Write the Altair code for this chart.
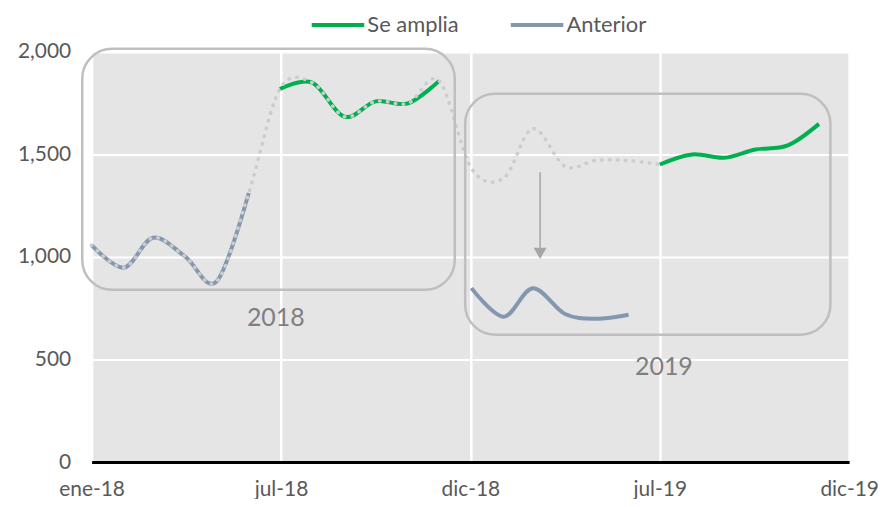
import altair as alt
import pandas as pd

# ---- data (monthly values) ----
meses_2018_h1 = ["2018-01-01", "2018-02-01", "2018-03-01", "2018-04-01", "2018-05-01", "2018-06-01"]
meses_2018_h2 = ["2018-07-01", "2018-08-01", "2018-09-01", "2018-10-01", "2018-11-01", "2018-12-01"]
meses_2019_h1 = ["2019-01-01", "2019-02-01", "2019-03-01", "2019-04-01", "2019-05-01", "2019-06-01"]
meses_2019_h2 = ["2019-07-01", "2019-08-01", "2019-09-01", "2019-10-01", "2019-11-01", "2019-12-01"]

anterior_2018 = [1058, 948, 1094, 1002, 880, 1312]
se_amplia_2018 = [1819, 1850, 1684, 1759, 1749, 1859]
previo_2019 = [1432, 1385, 1626, 1442, 1471, 1470, 1451]   # ene-jul 2019 (dotted)
anterior_2019 = [848, 709, 848, 722, 699, 718]
se_amplia_2019 = [1451, 1500, 1484, 1524, 1544, 1649]

series = ["Se amplia", "Anterior"]
colores = ["#00b050", "#8497b0"]

ticks_x = ["2018-01-01", "2018-07-02", "2018-12-31", "2019-07-01", "2019-12-30"]
ticks_y = [0, 500, 1000, 1500, 2000]
meses_es = ["ene", "feb", "mar", "abr", "may", "jun", "jul", "ago", "sep", "oct", "nov", "dic"]

# annotation boxes / labels / arrow (data coordinates)
cuadro_fecha_ini = ["2017-12-23", "2018-12-26"]
cuadro_fecha_fin = ["2018-12-16", "2019-12-12"]
cuadro_valor_ini = [840, 621]
cuadro_valor_fin = [2015, 1796]
etiquetas = ["2018", "2019"]
etiqueta_fecha = ["2018-06-27", "2019-07-05"]
etiqueta_valor = [704, 461]
flecha_fecha = "2019-03-08"
flecha_desde = 1413
flecha_hasta = 1035
flecha_punta = 1018

# ---- tables ----
def tramo(fechas, valores, serie, nombre):
    return pd.DataFrame({"fecha": fechas, "valor": valores, "serie": serie, "tramo": nombre})

lineas = pd.concat([
    tramo(meses_2018_h1, anterior_2018, "Anterior", "a18"),
    tramo(meses_2018_h2, se_amplia_2018, "Se amplia", "s18"),
    tramo(meses_2019_h1, anterior_2019, "Anterior", "a19"),
    tramo(meses_2019_h2, se_amplia_2019, "Se amplia", "s19"),
], ignore_index=True)

punteada = pd.DataFrame({
    "fecha": meses_2018_h1 + meses_2018_h2 + meses_2019_h1 + meses_2019_h2[:1],
    "valor": anterior_2018 + se_amplia_2018 + previo_2019,
})

cuadros = pd.DataFrame({"fecha": cuadro_fecha_ini, "fecha2": cuadro_fecha_fin,
                        "valor": cuadro_valor_ini, "valor2": cuadro_valor_fin})
textos = pd.DataFrame({"fecha": etiqueta_fecha, "valor": etiqueta_valor, "texto": etiquetas})
flecha = pd.DataFrame({"fecha": [flecha_fecha], "valor": [flecha_desde], "valor2": [flecha_hasta]})
punta = pd.DataFrame({"fecha": [flecha_fecha], "valor": [flecha_punta]})

FONT = "Lato"
GRIS_TXT = "#595959"

def dt(s):
    y, m, d = (int(p) for p in s.split("-"))
    return alt.DateTime(year=y, month=m, date=d, utc=True)

x_enc = alt.X(
    "fecha:T",
    scale=alt.Scale(type="utc", domain=[dt("2018-01-01"), dt("2019-12-30")]),
    axis=alt.Axis(
        values=[dt(t) for t in ticks_x],
        labelExpr="%s[utcmonth(datum.value)] + '-' + utcFormat(datum.value, '%%y')" % str(meses_es),
        title=None, grid=True, gridColor="white", gridWidth=2.5,
        ticks=False, domainColor="black", domainWidth=3,
        labelFont=FONT, labelFontSize=21, labelColor=GRIS_TXT, labelPadding=17,
        labelAlign="center", labelFlush=False, labelOverlap=False, labelBound=False,
    ),
)
y_enc = alt.Y(
    "valor:Q",
    scale=alt.Scale(domain=[0, 2000], nice=False, zero=True),
    axis=alt.Axis(
        values=ticks_y, format=",d", title=None, grid=True, gridColor="white", gridWidth=2,
        ticks=False, domain=False, labelFont=FONT, labelFontSize=21, labelColor=GRIS_TXT,
        labelPadding=21,
    ),
)

# legend line symbol: a wide horizontal stroke drawn by a custom symbol path
capa_lineas = alt.Chart(lineas).mark_line(interpolate="cardinal", strokeWidth=4).encode(
    x=x_enc, y=y_enc,
    color=alt.Color("serie:N", scale=alt.Scale(domain=series, range=colores),
                    legend=alt.Legend(orient="none", legendX=236.5, legendY=-38, direction="horizontal",
                                      title=None, symbolType="M-4.8,0H4.8", symbolSize=121,
                                      symbolStrokeWidth=4, labelFont=FONT, labelFontSize=22,
                                      labelColor=GRIS_TXT, columnPadding=43, labelOffset=18.5)),
    detail="tramo:N",
)

capa_punteada = alt.Chart(punteada).mark_line(
    interpolate="cardinal", strokeWidth=3.5, color="#cccccc", strokeDash=[0.5, 7.5], strokeCap="round"
).encode(x=x_enc, y=y_enc)

capa_cuadros = alt.Chart(cuadros).mark_rect(
    cornerRadius=30, fill="white", fillOpacity=0, stroke="#bfbfbf", strokeWidth=2.5
).encode(x=x_enc, x2="fecha2:T", y=y_enc, y2="valor2:Q")

capa_textos = alt.Chart(textos).mark_text(
    font=FONT, fontSize=25, color="#7f7f7f", align="center", baseline="middle"
).encode(x=x_enc, y=y_enc, text="texto:N")

capa_flecha = alt.Chart(flecha).mark_rule(color="#a6a6a6", strokeWidth=1.5).encode(
    x=x_enc, y=y_enc, y2="valor2:Q")
capa_punta = alt.Chart(punta).mark_point(
    shape="triangle-down", size=170, filled=True, color="#a6a6a6", opacity=1
).encode(x=x_enc, y=y_enc)

chart = alt.layer(
    capa_lineas, capa_punteada, capa_cuadros, capa_textos, capa_flecha, capa_punta
).properties(
    width=761, height=412,
    background="white",
    autosize=alt.AutoSizeParams(type="none"),
    padding={"left": 84, "top": 43, "right": 30, "bottom": 36},
).configure_view(fill="#e5e5e5", stroke=None)

chart.save("out.html", embed_options={"renderer": "svg", "actions": False})
